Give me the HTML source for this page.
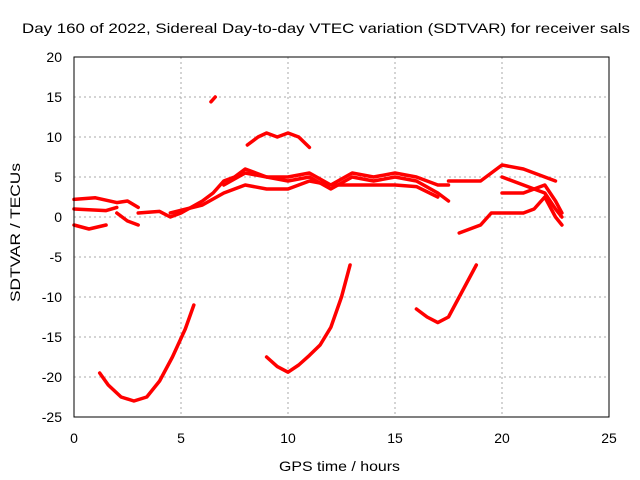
<!DOCTYPE html>
<html><head><meta charset="utf-8"><style>
body{margin:0;background:#fff;}
svg{display:block;font-family:"Liberation Sans",sans-serif;}
</style></head><body>
<svg width="640" height="480" id="chart">
<rect width="640" height="480" fill="#fff"/>
<text x="22" y="33" font-size="14" textLength="608" lengthAdjust="spacingAndGlyphs">Day 160 of 2022, Sidereal Day-to-day VTEC variation (SDTVAR) for receiver sals</text>
<text x="279" y="471" font-size="14" textLength="121" lengthAdjust="spacingAndGlyphs">GPS time / hours</text>
<text x="20" y="302" font-size="14" textLength="139" lengthAdjust="spacingAndGlyphs" transform="rotate(-90 20 302)">SDTVAR / TECUs</text>
<g id="grid"></g>
<g id="series"></g>
<rect x="74" y="57" width="535" height="360" fill="none" stroke="#000"/>
</svg>
<script>
const xTicks=[0,5,10,15,20,25];
const yTicks=[20,15,10,5,0,-5,-10,-15,-20,-25];
const arc1=[[1.2,-19.5],[1.6,-21],[2.2,-22.5],[2.8,-23],[3.4,-22.5],[4,-20.5],[4.6,-17.5],[5.2,-14],[5.6,-11]];
const arc2=[[9,-17.5],[9.5,-18.7],[10,-19.4],[10.5,-18.5],[11,-17.3],[11.5,-16],[12,-13.8],[12.5,-10],[12.9,-6]];
const arc3=[[16,-11.5],[16.5,-12.5],[17,-13.2],[17.5,-12.5],[18,-10],[18.5,-7.5],[18.8,-6]];
const top1=[[6.4,14.4],[6.6,15]];
const hump=[[8.1,9],[8.6,10],[9,10.5],[9.5,10],[10,10.5],[10.5,10],[11,8.7]];
const sA=[[0,2.2],[1,2.4],[2,1.8],[2.5,2],[3,1.2]];
const sB=[[0,1],[1.5,0.8],[2,1.2]];
const sC=[[0,-1],[0.7,-1.5],[1.5,-1]];
const sD=[[2,0.5],[2.5,-0.5],[3,-1]];
const sE=[[3,0.5],[4,0.7],[4.5,0],[5,0.5],[6,2],[6.5,3],[7,4.5],[7.5,5],[8,6],[8.5,5.5],[9,5],[10,4.5],[11,5],[12,3.5],[13,5],[14,4.5],[15,5],[16,4.5],[17,3],[17.5,2]];
const sF=[[4.5,0.5],[6,1.5],[7,3],[8,4],[9,3.5],[10,3.5],[11,4.5],[12,4],[13,4],[15,4],[16,3.8],[17,2.5]];
const sG=[[7,4],[8,5.5],[9,5],[10,5],[11,5.5],[12,4],[13,5.5],[14,5],[15,5.5],[16,5],[17,4],[17.5,4]];
const sH=[[17.5,4.5],[19,4.5],[20,6.5],[21,6],[22,5],[22.5,4.5]];
const sI=[[18,-2],[19,-1],[19.5,0.5],[20,0.5],[21,0.5],[21.5,1],[22,2.5],[22.5,0],[22.8,-1]];
const sJ=[[20,5],[21,4],[22,3],[22.5,1],[22.8,0]];
const sK=[[20,3],[21,3],[21.5,3.5],[22,4],[22.5,2],[22.8,0.5]];
const allSeries=[arc1,arc2,arc3,top1,hump,sA,sB,sC,sD,sE,sF,sG,sH,sI,sJ,sK];
const X=v=>74+v*535/25, Y=v=>217-v*8;
const NS="http://www.w3.org/2000/svg";
const grid=document.getElementById('grid'), ser=document.getElementById('series'), svg=document.getElementById('chart');
function mk(t,a,p){const e=document.createElementNS(NS,t);for(const k in a)e.setAttribute(k,a[k]);p.appendChild(e);return e;}
xTicks.forEach(t=>{
  if(t>0&&t<25){const l=mk('line',{x1:X(t),x2:X(t),y1:57,y2:417,stroke:'#aaa','stroke-dasharray':'2,3'},grid);
  
  }
  const tx=mk('text',{x:X(t),y:443,'text-anchor':'middle','font-size':14},svg);tx.textContent=t;
  
  
});
yTicks.forEach(t=>{
  if(t<20&&t>-25){const l=mk('line',{x1:74,x2:609,y1:Y(t),y2:Y(t),stroke:'#aaa','stroke-dasharray':'2,3'},grid);
  
  }
  const tx=mk('text',{x:62,y:Y(t)+5,'text-anchor':'end','font-size':14},svg);tx.textContent=t;
  
  
});
allSeries.forEach((s,i)=>{
  const p=mk('polyline',{points:s.map(d=>X(d[0])+','+Y(d[1])).join(' '),fill:'none',stroke:'#f00','stroke-width':3.5,'stroke-linejoin':'round','stroke-linecap':'round'},ser);
  
  
});
</script>
</body></html>
